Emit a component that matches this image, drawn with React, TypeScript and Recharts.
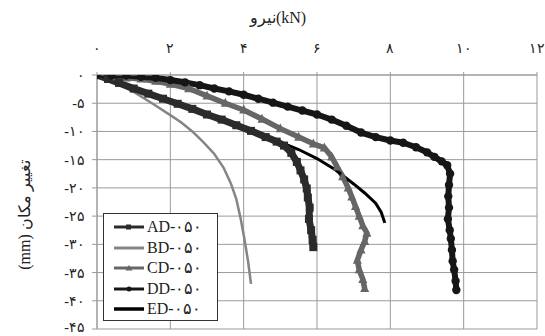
import React from 'react';
import { LineChart, Line, XAxis, YAxis, CartesianGrid, Label } from 'recharts';

// ---- tick values & labels ----
const xTicks = [0, 2, 4, 6, 8, 10, 12];
const xTickLabels = ['۰', '۲', '۴', '۶', '۸', '۱۰', '۱۲'];
const yTicks = [0, -5, -10, -15, -20, -25, -30, -35, -40, -45];
const yTickLabels = ['۰', '-۵', '-۱۰', '-۱۵', '-۲۰', '-۲۵', '-۳۰', '-۳۵', '-۴۰', '-۴۵'];

const xTitle = 'نیرو(kN)';
const yTitle = '(mm) تغییر مکان';

// ---- series names ----
const seriesNames = ['AD-۰۵۰', 'BD-۰۵۰', 'CD-۰۵۰', 'DD-۰۵۰', 'ED-۰۵۰'];

// ---- series values: force (kN) and displacement (mm) ----
const adForce = [0, 0.3, 0.6, 1.0, 1.4, 1.8, 2.2, 2.6, 3.0, 3.4, 3.8, 4.2, 4.6, 4.9, 5.1, 5.3, 5.45, 5.55, 5.65, 5.72, 5.75, 5.8, 5.78, 5.84, 5.88, 5.9];
const adDisp = [0, -0.7, -1.4, -2.4, -3.3, -4.2, -5.1, -6.0, -7.0, -7.9, -8.9, -9.9, -11.0, -11.8, -12.5, -13.8, -15.4, -16.9, -18.5, -20.1, -21.7, -23.5, -25.5, -27.5, -29.2, -30.5];

const bdForce = [0, 0.5, 1.0, 1.5, 2.0, 2.3, 2.6, 2.9, 3.2, 3.45, 3.65, 3.8, 3.92, 4.02, 4.12, 4.2];
const bdDisp = [0, -1.4, -3.0, -5.0, -7.1, -8.4, -10.0, -11.9, -14.0, -16.4, -19.2, -22.0, -25.5, -29.0, -33.0, -37.0];

const cdForce = [0, 0.4, 0.8, 1.2, 1.6, 2.0, 2.5, 3.0, 3.5, 4.0, 4.5, 5.0, 5.5, 5.9, 6.2, 6.4, 6.55, 6.7, 6.85, 6.95, 7.05, 7.15, 7.25, 7.36, 7.3, 7.2, 7.1, 7.15, 7.25, 7.3];
const cdDisp = [0, -0.3, -0.5, -0.7, -1.1, -1.6, -2.4, -3.7, -5.0, -6.2, -7.8, -9.5, -11.0, -12.2, -12.9, -14.5, -16.3, -18.0, -20.0, -21.6, -23.3, -25.0, -26.7, -28.0, -29.5, -31.0, -32.8, -34.5, -36.2, -37.8];

const ddForce = [0, 0.4, 0.8, 1.2, 1.6, 2.0, 2.4, 2.8, 3.2, 3.6, 4.0, 4.4, 4.8, 5.2, 5.6, 6.0, 6.4, 6.8, 7.2, 7.6, 8.0, 8.35, 8.7, 9.0, 9.2, 9.4, 9.55, 9.63, 9.6, 9.58, 9.6, 9.57, 9.62, 9.65, 9.68, 9.7, 9.74, 9.78, 9.8];
const ddDisp = [0, -0.1, -0.1, -0.3, -0.5, -0.9, -1.3, -1.8, -2.4, -2.9, -3.5, -4.2, -4.9, -5.6, -6.3, -7.0, -7.9, -9.0, -10.2, -11.0, -11.6, -12.0, -12.8, -13.7, -14.5, -15.3, -16.0, -17.5, -19.5, -21.5, -23.5, -25.5, -27.5, -29.0, -31.0, -33.0, -34.5, -36.5, -38.1];

const edForce = [0, 0.5, 1.0, 1.5, 2.0, 2.5, 3.0, 3.5, 4.0, 4.5, 5.0, 5.5, 6.0, 6.5, 7.0, 7.3, 7.6, 7.75, 7.85];
const edDisp = [0, -1.3, -2.6, -3.6, -4.7, -5.8, -6.9, -8.1, -9.3, -10.6, -11.9, -13.2, -14.8, -16.8, -19.3, -20.9, -22.7, -24.3, -26.2];

const zip = (xs: number[], ys: number[]) => xs.map((x, i) => ({ x, y: ys[i] }));

const adData = zip(adForce, adDisp);
const bdData = zip(bdForce, bdDisp);
const cdData = zip(cdForce, cdDisp);
const ddData = zip(ddForce, ddDisp);
const edData = zip(edForce, edDisp);

const FONT = '"Liberation Serif", "DejaVu Serif", serif';

const colors = {
  ad: '#2b2b2b',
  bd: '#858585',
  cd: '#666666',
  dd: '#161616',
  ed: '#000000',
};

const squareDot = (fill: string, s: number) => (p: any) => (
  <rect key={`sq-${p.index}`} x={p.cx - s / 2} y={p.cy - s / 2} width={s} height={s} fill={fill} />
);
const circleDot = (fill: string, r: number) => (p: any) => (
  <circle key={`ci-${p.index}`} cx={p.cx} cy={p.cy} r={r} fill={fill} />
);
const triDot = (fill: string, s: number) => (p: any) => (
  <polygon
    key={`tr-${p.index}`}
    points={`${p.cx},${p.cy - s * 0.6} ${p.cx - s / 2},${p.cy + s * 0.4} ${p.cx + s / 2},${p.cy + s * 0.4}`}
    fill={fill}
  />
);

const xLabelFmt = (v: number) => xTickLabels[xTicks.indexOf(v)] ?? '';
const yLabelFmt = (v: number) => yTickLabels[yTicks.indexOf(v)] ?? '';

const LegendSwatch = ({ kind, color }: { kind: string; color: string }) => (
  <svg width={32} height={12} style={{ display: 'block' }}>
    <line x1={1} y1={6} x2={31} y2={6} stroke={color} strokeWidth={kind === 'ed' ? 3.5 : 3} />
    {kind === 'ad' && <rect x={13} y={3.5} width={5} height={5} fill={color} />}
    {kind === 'cd' && <polygon points="16,3 12.5,8.5 19.5,8.5" fill={color} />}
    {kind === 'dd' && <circle cx={16} cy={6} r={2.5} fill={color} />}
  </svg>
);

const legendItems = [
  { kind: 'ad', color: colors.ad, name: seriesNames[0] },
  { kind: 'bd', color: colors.bd, name: seriesNames[1] },
  { kind: 'cd', color: colors.cd, name: seriesNames[2] },
  { kind: 'dd', color: colors.dd, name: seriesNames[3] },
  { kind: 'ed', color: colors.ed, name: seriesNames[4] },
];

export default function App() {
  return (
    <div style={{ position: 'absolute', left: 0, top: 0, width: 545, height: 336, background: '#fff' }}>
      <LineChart width={545} height={336} margin={{ top: 0, right: 8, bottom: 7, left: 0 }}>
        <CartesianGrid stroke="#9a9a9a" strokeWidth={1} />
        <XAxis
          type="number"
          dataKey="x"
          orientation="top"
          domain={[0, 12]}
          ticks={xTicks}
          tickFormatter={xLabelFmt}
          height={75}
          tickSize={3}
          tickMargin={19}
          axisLine={{ stroke: '#9a9a9a' }}
          tickLine={{ stroke: '#9a9a9a' }}
          tick={{ fontSize: 14, fill: '#222', fontFamily: FONT }}
          allowDataOverflow
        >
          <Label
            content={() => (
              <text x={278} y={23} textAnchor="middle" fontSize={16} fill="#222" fontFamily={FONT}>
                {xTitle}
              </text>
            )}
          />
        </XAxis>
        <YAxis
          type="number"
          dataKey="y"
          domain={[-45, 0]}
          ticks={yTicks}
          tickFormatter={yLabelFmt}
          width={97}
          tickSize={5}
          tickMargin={7}
          axisLine={{ stroke: '#9a9a9a' }}
          tickLine={{ stroke: '#9a9a9a' }}
          tick={{ fontSize: 14, fill: '#222', fontFamily: FONT }}
          allowDataOverflow
        >
          <Label
            content={() => (
              <text
                x={26}
                y={215}
                transform="rotate(-90 26 215)"
                textAnchor="middle"
                dominantBaseline="middle"
                fontSize={16}
                fill="#222"
                fontFamily={FONT}
              >
                {yTitle}
              </text>
            )}
          />
        </YAxis>
        <Line data={bdData} dataKey="y" type="linear" stroke={colors.bd} strokeWidth={2.5} dot={false} isAnimationActive={false} />
        <Line data={cdData} dataKey="y" type="linear" stroke={colors.cd} strokeWidth={5.5} strokeLinejoin="round" dot={triDot(colors.cd, 9)} isAnimationActive={false} />
        <Line data={edData} dataKey="y" type="linear" stroke={colors.ed} strokeWidth={3} dot={false} isAnimationActive={false} />
        <Line data={adData} dataKey="y" type="linear" stroke={colors.ad} strokeWidth={7} strokeLinejoin="round" dot={squareDot(colors.ad, 8)} isAnimationActive={false} />
        <Line data={ddData} dataKey="y" type="linear" stroke={colors.dd} strokeWidth={6} strokeLinejoin="round" dot={circleDot(colors.dd, 4.2)} isAnimationActive={false} />
      </LineChart>
      <div
        style={{
          position: 'absolute',
          left: 103,
          top: 213,
          width: 115,
          height: 108,
          background: '#fff',
          border: '1.5px solid #333',
          boxSizing: 'border-box',
          padding: '3px 0 0 9px',
          fontFamily: FONT,
          fontSize: 16,
          color: '#222',
        }}
      >
        {legendItems.map((it) => (
          <div key={it.kind} style={{ display: 'flex', alignItems: 'center', height: 20.5 }}>
            <LegendSwatch kind={it.kind} color={it.color} />
            <span style={{ marginLeft: 2, lineHeight: '20px' }}>{it.name}</span>
          </div>
        ))}
      </div>
    </div>
  );
}
